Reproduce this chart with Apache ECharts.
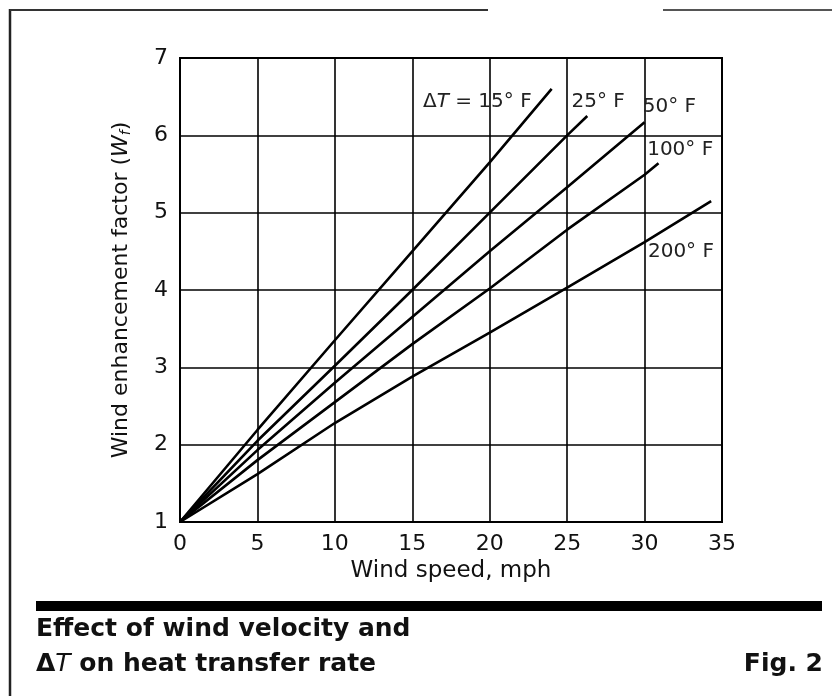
<!DOCTYPE html>
<html>
<head>
<meta charset="utf-8">
<script src="https://cdn.jsdelivr.net/npm/echarts@6/dist/echarts.min.js"></script>
<style>
  html, body { margin: 0; padding: 0; background: #fff; }
  #main { width: 832px; height: 696px; }
</style>
</head>
<body>
<div id="main"></div>
<script>
// wind speed (mph) and wind enhancement factor
var speed15 = [0, 5, 10, 15, 20, 24];
var wf15 = [1, 2.19, 3.35, 4.5, 5.65, 6.6];
var speed25 = [0, 5, 10, 15, 20, 25, 26.3];
var wf25 = [1, 2.05, 3.02, 4.0, 5.0, 6.0, 6.25];
var speed50 = [0, 5, 10, 15, 20, 25, 30];
var wf50 = [1, 1.93, 2.8, 3.65, 4.5, 5.33, 6.17];
var speed100 = [0, 5, 10, 15, 20, 25, 30, 30.9];
var wf100 = [1, 1.8, 2.55, 3.3, 4.02, 4.78, 5.49, 5.64];
var speed200 = [0, 5, 10, 15, 20, 25, 30, 34.3];
var wf200 = [1, 1.62, 2.28, 2.88, 3.45, 4.03, 4.62, 5.15];

// curve labels: text and where they sit (data units)
var curveNames = ['15', '25', '50', '100', '200'];
var labelX = [19.2, 27.0, 31.6, 32.3, 32.35];
var labelY = [6.43, 6.43, 6.37, 5.81, 4.49];

var FONT = 'DejaVu Sans';

function pairs(xs, ys) {
  var out = [];
  for (var i = 0; i < xs.length; i++) out.push([xs[i], ys[i]]);
  return out;
}

var curves = [
  pairs(speed15, wf15),
  pairs(speed25, wf25),
  pairs(speed50, wf50),
  pairs(speed100, wf100),
  pairs(speed200, wf200)
];

var series = curves.map(function (d, i) {
  var txt = i === 0 ? '{n|Δ}{i|T}{n| = ' + curveNames[i] + '° F}' : '{n|' + curveNames[i] + '° F}';
  return {
    name: curveNames[i] + '°F',
    type: 'line',
    data: d,
    symbol: 'none',
    lineStyle: { color: '#000', width: 2.6 },
    silent: true,
    markPoint: {
      symbol: 'circle',
      symbolSize: 0,
      data: [{ coord: [labelX[i], labelY[i]] }],
      label: {
        show: true,
        position: 'inside',
        formatter: txt,
        rich: {
          n: { fontFamily: FONT, fontSize: 20, color: '#222' },
          i: { fontFamily: FONT, fontSize: 20, color: '#222', fontStyle: 'italic' }
        }
      }
    }
  };
});

var chart = echarts.init(document.getElementById('main'));

chart.setOption({
  backgroundColor: '#fff',
  animation: false,
  grid: {
    left: 180, right: 110, top: 58, bottom: 174,
    show: true, borderColor: '#000', borderWidth: 2, backgroundColor: 'transparent'
  },
  xAxis: {
    type: 'value',
    min: 0, max: 35, interval: 5,
    name: 'Wind speed, mph',
    nameLocation: 'middle',
    nameGap: 34,
    nameTextStyle: { fontFamily: FONT, fontSize: 23, color: '#111' },
    axisLine: { show: true, lineStyle: { color: '#000', width: 2 } },
    axisTick: { show: false },
    axisLabel: { fontFamily: FONT, fontSize: 22, color: '#111', margin: 11 },
    splitLine: { show: true, lineStyle: { color: '#000', width: 1.6 } }
  },
  yAxis: {
    type: 'value',
    min: 1, max: 7, interval: 1,
    name: '{n|Wind enhancement factor (}{i|W}{s|f}{n|)}',
    nameLocation: 'middle',
    nameGap: 47,
    nameTextStyle: {
      rich: {
        n: { fontFamily: FONT, fontSize: 22, color: '#111' },
        i: { fontFamily: FONT, fontSize: 22, color: '#111', fontStyle: 'italic' },
        s: { fontFamily: FONT, fontSize: 14, color: '#111', fontStyle: 'italic', verticalAlign: 'bottom', padding: [9, 0, 0, 0] }
      }
    },
    axisLine: { show: true, lineStyle: { color: '#000', width: 2 } },
    axisTick: { show: false },
    axisLabel: { fontFamily: FONT, fontSize: 22, color: '#111', margin: 12 },
    splitLine: { show: true, lineStyle: { color: '#000', width: 1.6 } }
  },
  series: series,
  graphic: [
    // page frame pieces
    { type: 'line', shape: { x1: 10, y1: 9, x2: 10, y2: 696 }, style: { stroke: '#222', lineWidth: 2.5 } },
    { type: 'line', shape: { x1: 10, y1: 10, x2: 488, y2: 10 }, style: { stroke: '#333', lineWidth: 2 } },
    { type: 'line', shape: { x1: 663, y1: 10, x2: 832, y2: 10 }, style: { stroke: '#555', lineWidth: 2 } },
    // thick rule above caption
    { type: 'rect', shape: { x: 36, y: 601, width: 786, height: 10 }, style: { fill: '#000' } },
    {
      type: 'text', left: 36, top: 617,
      style: { text: 'Effect of wind velocity and', fontFamily: FONT, fontSize: 25, fontWeight: 'bold', fill: '#111' }
    },
    {
      type: 'text', left: 36, top: 652,
      style: {
        text: '{n|Δ}{i|T}{n| on heat transfer rate}',
        rich: {
          n: { fontFamily: FONT, fontSize: 25, fontWeight: 'bold', fill: '#111' },
          i: { fontFamily: FONT, fontSize: 25, fontStyle: 'italic', fill: '#111' }
        }
      }
    },
    {
      type: 'text', right: 9, top: 652,
      style: { text: 'Fig. 2', fontFamily: FONT, fontSize: 25, fontWeight: 'bold', fill: '#111' }
    }
  ]
});
</script>
</body>
</html>
